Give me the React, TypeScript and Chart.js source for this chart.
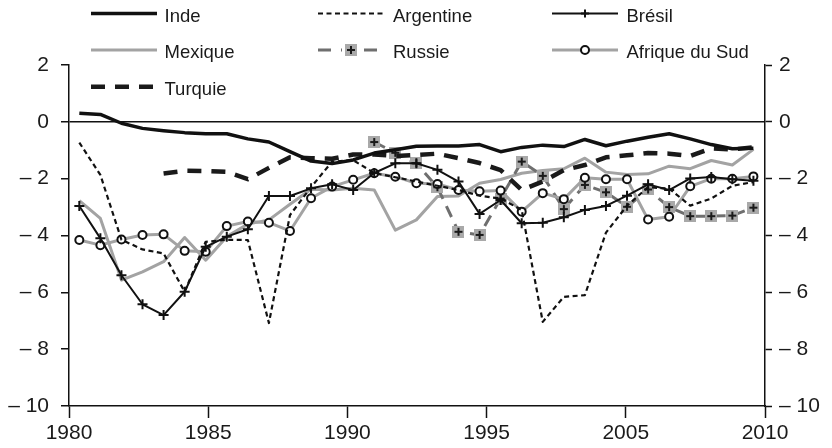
import React, { useEffect, useRef } from 'react';
import { Chart, registerables } from 'chart.js';

Chart.register(...registerables);

// ---- data ----
const xTickLabels = ['1980', '1985', '1990', '1995', '2005', '2010'];

const inde = [0.3, 0.26, -0.05, -0.23, -0.31, -0.38, -0.42, -0.42, -0.6, -0.71, -1.05, -1.38, -1.47, -1.34, -1.1, -0.98, -0.86, -0.85, -0.85, -0.8, -1.05, -0.9, -0.82, -0.87, -0.62, -0.84, -0.68, -0.54, -0.42, -0.6, -0.8, -0.95, -0.93];
const argentine = [-0.73, -1.87, -4.15, -4.49, -4.63, -5.98, -4.22, -4.15, -4.16, -7.08, -3.28, -2.3, -1.4, -1.35, -1.8, -1.95, -2.1, -2.25, -2.4, -2.6, -2.7, -3.1, -7.04, -6.16, -6.1, -3.9, -2.95, -2.3, -2.35, -2.95, -2.7, -2.25, -2.12];
const bresil = [-2.96, -4.1, -5.4, -6.42, -6.8, -5.98, -4.4, -4.04, -3.78, -2.61, -2.61, -2.34, -2.2, -2.4, -1.8, -1.46, -1.46, -1.69, -2.1, -3.24, -2.75, -3.57, -3.55, -3.36, -3.1, -2.96, -2.6, -2.2, -2.4, -1.99, -1.94, -2.02, -2.07];
const mexique = [-2.77, -3.4, -5.57, -5.28, -4.92, -4.07, -4.87, -4.04, -3.6, -3.45, -2.9, -2.37, -2.4, -2.34, -2.4, -3.81, -3.45, -2.63, -2.61, -2.16, -2.03, -1.81, -1.71, -1.65, -1.28, -1.77, -1.85, -1.83, -1.56, -1.65, -1.36, -1.52, -0.97];
const russie = [null, null, null, null, null, null, null, null, null, null, null, null, null, null, -0.71, -1.09, -1.46, -2.3, -3.87, -3.98, -2.7, -1.4, -1.9, -3.07, -2.22, -2.48, -2.99, -2.38, -3.0, -3.32, -3.32, -3.3, -3.02];
const afrique = [-4.16, -4.34, -4.14, -3.98, -3.96, -4.54, -4.57, -3.67, -3.51, -3.55, -3.84, -2.69, -2.28, -2.04, -1.81, -1.93, -2.16, -2.19, -2.4, -2.44, -2.42, -3.16, -2.51, -2.72, -1.97, -2.02, -2.02, -3.44, -3.34, -2.27, -2.0, -2.0, -1.92];
const turquie = [null, null, null, null, -1.82, -1.72, -1.73, -1.76, -2.02, -1.62, -1.25, -1.28, -1.3, -1.15, -1.15, -1.2, -1.17, -1.12, -1.28, -1.45, -1.7, -2.4, -2.1, -1.7, -1.52, -1.25, -1.18, -1.1, -1.12, -1.2, -0.93, -0.97, -0.9];

const seriesNames = ['Inde', 'Argentine', 'Brésil', 'Mexique', 'Russie', 'Afrique du Sud', 'Turquie'];

// ---- layout constants ----
const X_MIN = -0.49;
const X_MAX = 32.55;
const FONT = "'Liberation Sans', Arial, Helvetica, sans-serif";

const toXY = (arr: (number | null)[]) => arr.map((v, i) => ({ x: i, y: v }));

function makeRussiaPoint() {
  const c = document.createElement('canvas');
  c.width = 12;
  c.height = 12;
  const g = c.getContext('2d')!;
  g.fillStyle = '#a9a9a9';
  g.fillRect(0, 0, 12, 12);
  g.strokeStyle = '#1a1a1a';
  g.lineWidth = 2;
  g.beginPath();
  g.moveTo(6, 2);
  g.lineTo(6, 10);
  g.moveTo(2, 6);
  g.lineTo(10, 6);
  g.stroke();
  return c;
}

const yTickFmt = (v: any) => (Number(v) < 0 ? '\u2013 ' + Math.abs(Number(v)) : String(v));

const legendPlugin = {
  id: 'customLegend',
  afterDraw(chart: any) {
    const ctx = chart.ctx as CanvasRenderingContext2D;
    const lineStart = [91, 318, 552];
    const textX = [164.5, 393, 626.5];
    const rowY = [13.5, 50, 86.7];
    const len = 66;
    chart.data.datasets.forEach((ds: any, i: number) => {
      const col = i % 3;
      const row = Math.floor(i / 3);
      const x0 = lineStart[col];
      const y = rowY[row];
      ctx.save();
      ctx.strokeStyle = ds.borderColor;
      ctx.lineWidth = ds.borderWidth;
      ctx.setLineDash(ds.legendDash || ds.borderDash || []);
      ctx.beginPath();
      ctx.moveTo(x0, y);
      ctx.lineTo(x0 + len, y);
      ctx.stroke();
      ctx.setLineDash([]);
      const cx = x0 + len / 2;
      if (ds.pointStyle === 'cross') {
        ctx.strokeStyle = ds.pointBorderColor;
        ctx.lineWidth = ds.pointBorderWidth;
        ctx.beginPath();
        ctx.moveTo(cx - 4, y);
        ctx.lineTo(cx + 4, y);
        ctx.moveTo(cx, y - 4);
        ctx.lineTo(cx, y + 4);
        ctx.stroke();
      } else if (ds.pointStyle === 'circle' && ds.pointRadius > 0) {
        ctx.fillStyle = ds.pointBackgroundColor;
        ctx.strokeStyle = ds.pointBorderColor;
        ctx.lineWidth = ds.pointBorderWidth;
        ctx.beginPath();
        ctx.arc(cx, y, ds.pointRadius, 0, Math.PI * 2);
        ctx.fill();
        ctx.stroke();
      } else if (ds.pointStyle && typeof ds.pointStyle === 'object') {
        const img = ds.pointStyle as HTMLCanvasElement;
        ctx.clearRect(cx - 9, y - 4, 18, 8);
        ctx.drawImage(img, cx - img.width / 2, y - img.height / 2);
      }
      ctx.fillStyle = '#1a1a1a';
      ctx.font = `18.5px ${FONT}`;
      ctx.textBaseline = 'alphabetic';
      ctx.textAlign = 'left';
      ctx.fillText(seriesNames[i], textX[col], y + 8);
      ctx.restore();
    });
  },
};

export default function App() {
  const ref = useRef<HTMLCanvasElement | null>(null);

  useEffect(() => {
    if (!ref.current) return;
    const russiaPt = makeRussiaPoint();
    const tickFont = { family: FONT, size: 21 };
    const chart = new Chart(ref.current, {
      type: 'line',
      data: {
        datasets: [
          {
            label: seriesNames[0], data: toXY(inde), borderColor: '#111', borderWidth: 3.5,
            pointRadius: 0, order: 0,
          },
          {
            label: seriesNames[1], data: toXY(argentine), borderColor: '#111', borderWidth: 2.2,
            borderDash: [5, 3.5], pointRadius: 0, order: 2,
          },
          {
            label: seriesNames[2], data: toXY(bresil), borderColor: '#111', borderWidth: 2,
            pointStyle: 'cross', pointRadius: 5, pointBorderWidth: 2, pointBorderColor: '#111',
            pointBackgroundColor: '#111', order: 1,
          },
          {
            label: seriesNames[3], data: toXY(mexique), borderColor: '#a3a3a3', borderWidth: 3,
            pointRadius: 0, order: 6,
          },
          {
            label: seriesNames[4], data: toXY(russie), borderColor: '#6f6f6f', borderWidth: 3,
            borderDash: [12, 8], legendDash: [13, 10], pointStyle: russiaPt, pointRadius: 6, order: 5,
          },
          {
            label: seriesNames[5], data: toXY(afrique), borderColor: '#a3a3a3', borderWidth: 3,
            pointStyle: 'circle', pointRadius: 4, pointBorderWidth: 2, pointBorderColor: '#111',
            pointBackgroundColor: '#fff', order: 4,
          },
          {
            label: seriesNames[6], data: toXY(turquie), borderColor: '#1a1a1a', borderWidth: 4.5,
            borderDash: [14, 10], pointRadius: 0, order: 3,
          },
        ] as any,
      },
      options: {
        animation: false,
        responsive: false,
        devicePixelRatio: 1,
        layout: { padding: { top: 65, left: 0, right: 0, bottom: 0 } },
        plugins: { legend: { display: false }, tooltip: { enabled: false } },
        elements: { line: { tension: 0, borderJoinStyle: 'round' } },
        scales: {
          x: {
            type: 'linear',
            min: X_MIN,
            max: X_MAX,
            afterBuildTicks: (s: any) => {
              const n = xTickLabels.length - 1;
              s.ticks = xTickLabels.map((_, k) => ({ value: X_MIN + (k * (X_MAX - X_MIN)) / n }));
            },
            afterFit: (s: any) => { s.height = 42; },
            ticks: {
              callback: (_v: any, idx: number) => xTickLabels[idx],
              font: tickFont, color: '#1a1a1a', padding: 3, maxRotation: 0, autoSkip: false,
            },
            grid: { drawOnChartArea: false, drawTicks: true, tickLength: 12, tickColor: '#111', tickWidth: 1.5 },
            border: { display: true, color: '#111', width: 1.5 },
          },
          y: {
            position: 'left',
            min: -10,
            max: 2,
            afterFit: (s: any) => { s.width = 69; },
            ticks: { stepSize: 2, callback: yTickFmt, font: tickFont, color: '#1a1a1a', padding: 12 },
            grid: {
              color: (c: any) => (c.tick && c.tick.value === 0 ? '#111' : 'rgba(0,0,0,0)'),
              lineWidth: 1.5, tickLength: 8, tickColor: '#111', tickWidth: 1.5,
            },
            border: { display: true, color: '#111', width: 1.5 },
          },
          y2: {
            position: 'right',
            display: true,
            min: -10,
            max: 2,
            afterFit: (s: any) => { s.width = 67; },
            ticks: { stepSize: 2, callback: yTickFmt, font: tickFont, color: '#1a1a1a', padding: 7 },
            grid: { drawOnChartArea: false, tickLength: 7, tickColor: '#111', tickWidth: 1.5 },
            border: { display: true, color: '#111', width: 1.5 },
          },
        },
      } as any,
      plugins: [legendPlugin],
    });
    return () => chart.destroy();
  }, []);

  return (
    <div style={{ position: 'absolute', left: 0, top: 0, width: 832, height: 448, background: '#fff' }}>
      <canvas ref={ref} width={832} height={448} style={{ width: 832, height: 448, display: 'block' }} />
    </div>
  );
}
